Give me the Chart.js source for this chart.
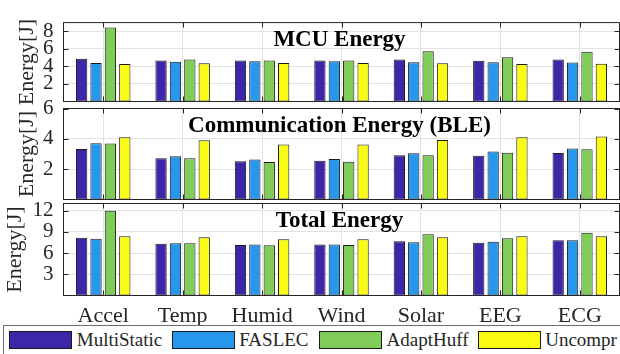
<!DOCTYPE html>
<html>
<head>
<meta charset="utf-8">
<script src="https://cdn.jsdelivr.net/npm/chart.js@4/dist/chart.umd.min.js"></script>
<style>
  html, body { margin: 0; padding: 0; background: #fff; }
  body { width: 620px; height: 354px; position: relative; overflow: hidden;
         font-family: "Liberation Serif", "Times New Roman", serif; }
  canvas { position: absolute; left: 0; top: 0; }
  #legend { position: absolute; left: 3px; top: 325px; width: 640px; height: 40px;
            border: 1px solid #6e6e6e; box-sizing: border-box; background: #fff; }
  .item { position: absolute; top: 5px; height: 18px; display: flex; align-items: center; white-space: nowrap; }
  .swatch { width: 63px; height: 18px; box-sizing: border-box; border: 1px solid #1a1a1a; }
  .label { margin-left: 4.5px; font-size: 19px; line-height: 18px; color: #262626; }
</style>
</head>
<body>
<canvas id="mcu" width="620" height="354"></canvas>
<canvas id="ble" width="620" height="354"></canvas>
<canvas id="total" width="620" height="354"></canvas>
<div id="legend"></div>
<script>
// Signal types along the x axis
const categories = ['Accel', 'Temp', 'Humid', 'Wind', 'Solar', 'EEG', 'ECG'];

// Compression schemes
const seriesNames = ['MultiStatic', 'FASLEC', 'AdaptHuff', 'Uncompr'];
const seriesColors = ['#3E26A8', '#2797EB', '#80CC58', '#F9FB15'];

// MCU energy [J]
const mcuMultiStatic = [4.89, 4.69, 4.69, 4.69, 4.79, 4.66, 4.79];
const mcuFaslec      = [4.39, 4.52, 4.59, 4.59, 4.49, 4.49, 4.46];
const mcuAdaptHuff   = [8.43, 4.79, 4.69, 4.69, 5.74, 5.05, 5.67];
const mcuUncompr     = [4.27, 4.36, 4.39, 4.39, 4.36, 4.27, 4.30];

// Communication (BLE) energy [J]
const bleMultiStatic = [3.33, 2.72, 2.52, 2.56, 2.91, 2.89, 3.07];
const bleFaslec      = [3.71, 2.85, 2.63, 2.67, 3.05, 3.16, 3.36];
const bleAdaptHuff   = [3.69, 2.72, 2.47, 2.49, 2.91, 3.09, 3.31];
const bleUncompr     = [4.11, 3.91, 3.62, 3.62, 3.93, 4.11, 4.15];

// Total energy [J]
const totMultiStatic = [8.17, 7.33, 7.14, 7.19, 7.66, 7.47, 7.80];
const totFaslec      = [8.03, 7.38, 7.19, 7.19, 7.52, 7.61, 7.80];
const totAdaptHuff   = [11.97, 7.38, 7.09, 7.14, 8.64, 8.08, 8.87];
const totUncompr     = [8.36, 8.22, 7.94, 7.94, 8.22, 8.36, 8.36];

// Y axis ranges and tick values per panel
const mcuMax = 9,  mcuTicks = [2, 4, 6, 8];
const bleMax = 6,  bleTicks = [2, 4, 6];
const totMax = 13, totTicks = [3, 6, 9, 12];

const FONT = '"Liberation Serif", "Times New Roman", serif';
const INK = '#262626';
Chart.defaults.font.family = FONT;
Chart.defaults.color = INK;

// Axes box with inward tick marks on all four sides
const frame = {
  id: 'frame',
  afterDatasetsDraw(chart) {
    const { ctx, chartArea: a, scales: { x, y } } = chart;
    ctx.save();
    ctx.strokeStyle = INK;
    ctx.lineWidth = 1;
    ctx.beginPath();
    y.ticks.forEach(t => {
      const py = Math.round(y.getPixelForValue(t.value)) + 0.5;
      ctx.moveTo(a.left, py); ctx.lineTo(a.left + 5, py);
      ctx.moveTo(a.right, py); ctx.lineTo(a.right - 5, py);
    });
    x.ticks.forEach((t, i) => {
      const px = Math.round(x.getPixelForTick(i)) + 0.5;
      ctx.moveTo(px, a.top); ctx.lineTo(px, a.top + 5);
      ctx.moveTo(px, a.bottom); ctx.lineTo(px, a.bottom - 5);
    });
    ctx.stroke();
    ctx.strokeRect(a.left, a.top, a.right - a.left, a.bottom - a.top);
    ctx.restore();
  }
};

// Bold panel heading inside the top of the plot area
const heading = {
  id: 'heading',
  afterDraw(chart, args, opts) {
    const { ctx, chartArea: a } = chart;
    ctx.save();
    ctx.font = 'bold 23px ' + FONT;
    ctx.fillStyle = '#000';
    ctx.textAlign = 'center';
    ctx.textBaseline = 'alphabetic';
    ctx.fillText(opts.text, (a.left + a.right) / 2 - 2, a.top + 23.5);
    ctx.restore();
  }
};

function makePanel(id, values, yMax, yTicks, title, area, showX, titleX) {
  const datasets = values.map((v, i) => ({
    label: seriesNames[i],
    data: v,
    backgroundColor: seriesColors[i],
    borderColor: '#1a1a1a',
    borderWidth: 1,
    borderSkipped: false,
    categoryPercentage: 0.725,
    barPercentage: 0.785
  }));
  const xHeight = showX ? 30 : 0;
  return new Chart(document.getElementById(id), {
    type: 'bar',
    data: { labels: categories, datasets },
    plugins: [frame, heading],
    options: {
      responsive: false,
      devicePixelRatio: 1,
      animation: false,
      events: [],
      layout: {
        padding: { left: 0, right: 620 - area.right, top: area.top, bottom: 354 - area.bottom - xHeight }
      },
      plugins: {
        legend: { display: false },
        tooltip: { enabled: false },
        heading: { text: title }
      },
      scales: {
        x: {
          offset: true,
          grid: { offset: false, color: '#e2e2e2', drawTicks: false },
          border: { display: false },
          ticks: { display: showX, padding: 8, font: { size: 22 }, color: INK, maxRotation: 0 },
          afterFit: s => { s.height = xHeight; }
        },
        y: {
          min: 0,
          max: yMax,
          afterBuildTicks: s => { s.ticks = yTicks.map(v => ({ value: v })); },
          grid: { color: '#e2e2e2', drawTicks: false },
          border: { display: false },
          ticks: { padding: 10, font: { size: 21 }, color: INK },
          title: { display: true, text: 'Energy[J]', font: { size: 22 }, color: INK,
                   padding: { top: titleX - 13.2, bottom: 0 } },
          afterFit: s => { s.width = area.left; }
        }
      }
    }
  });
}

makePanel('mcu', [mcuMultiStatic, mcuFaslec, mcuAdaptHuff, mcuUncompr], mcuMax, mcuTicks,
          'MCU Energy', { left: 63.5, right: 619.5, top: 9.5, bottom: 101.5 }, false, 27);
makePanel('ble', [bleMultiStatic, bleFaslec, bleAdaptHuff, bleUncompr], bleMax, bleTicks,
          'Communication Energy (BLE)', { left: 63.5, right: 619.5, top: 108.5, bottom: 199.5 }, false, 27);
makePanel('total', [totMultiStatic, totFaslec, totAdaptHuff, totUncompr], totMax, totTicks,
          'Total Energy', { left: 63.5, right: 619.5, top: 203.5, bottom: 295.5 }, true, 15.5);

// Legend row along the bottom
const legendLeft = [5.3, 167.7, 315, 473.7];
const legend = document.getElementById('legend');
seriesNames.forEach((name, i) => {
  const item = document.createElement('div');
  item.className = 'item';
  item.style.left = legendLeft[i] + 'px';
  const sw = document.createElement('div');
  sw.className = 'swatch';
  sw.style.background = seriesColors[i];
  const lb = document.createElement('span');
  lb.className = 'label';
  lb.textContent = name;
  item.appendChild(sw);
  item.appendChild(lb);
  legend.appendChild(item);
});
</script>
</body>
</html>
